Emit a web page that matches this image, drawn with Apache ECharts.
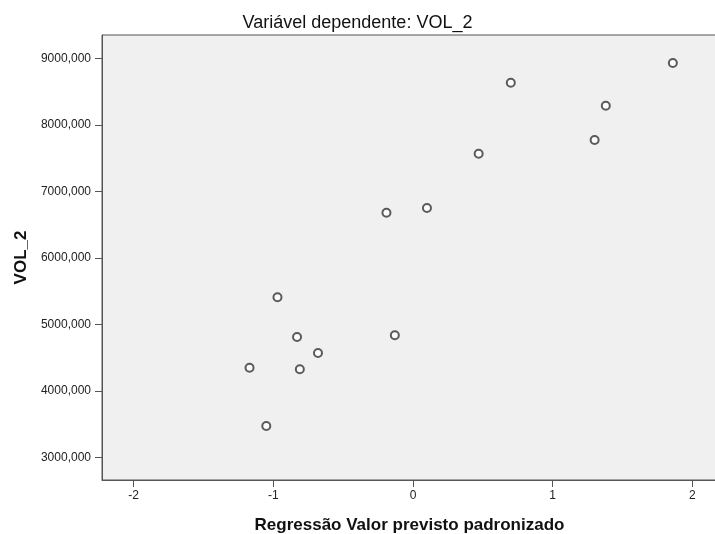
<!DOCTYPE html>
<html>
<head>
<meta charset="utf-8">
<script src="https://cdn.jsdelivr.net/npm/echarts@6/dist/echarts.min.js"></script>
<style>
  html, body { margin: 0; padding: 0; background: #fff; }
  #chart { width: 715px; height: 534px; }
</style>
</head>
<body>
<div id="chart"></div>
<script>
// valor previsto padronizado (x) e VOL_2 (y)
var predicted = [1.86, 0.70, 1.38, 1.30, 0.47, 0.10, -0.19, -0.97, -0.83, -0.13, -0.68, -1.17, -0.81, -1.05];
var vol2 = [8929, 8633, 8288, 7773, 7567, 6751, 6681, 5410, 4813, 4839, 4573, 4352, 4328, 3476];
var xTicks = [-2, -1, 0, 1, 2];
var yTicks = [3000, 4000, 5000, 6000, 7000, 8000, 9000];

var points = predicted.map(function (x, i) { return [x, vol2[i]]; });

var myChart = echarts.init(document.getElementById('chart'));

var fontFam = '"Liberation Sans", Arial, sans-serif';

var option = {
    backgroundColor: '#fff',
    animation: false,
    title: {
        text: 'Variável dependente: VOL_2',
        left: 'center',
        top: 9,
        textStyle: {
            color: '#111',
            fontFamily: fontFam,
            fontSize: 18,
            fontWeight: 'normal'
        }
    },
    grid: {
        left: 102,
        top: 35,
        right: -2,
        bottom: 54,
        outerBoundsMode: 'none',
        show: true,
        backgroundColor: '#f0f0f0',
        borderColor: '#555',
        borderWidth: 1
    },
    xAxis: {
        type: 'value',
        min: -2.226,
        max: 2.176,
        name: 'Regressão Valor previsto padronizado',
        nameLocation: 'middle',
        nameGap: 37,
        nameTextStyle: {
            color: '#111',
            fontFamily: fontFam,
            fontSize: 17,
            fontWeight: 'bold'
        },
        splitLine: { show: false },
        axisLine: { show: true, onZero: false, lineStyle: { color: '#555', width: 1 } },
        axisTick: {
            show: true,
            length: 7,
            customValues: xTicks,
            lineStyle: { color: '#555', width: 1 }
        },
        axisLabel: {
            customValues: xTicks,
            color: '#222',
            fontFamily: fontFam,
            fontSize: 12,
            margin: 10
        }
    },
    yAxis: {
        type: 'value',
        min: 2665,
        max: 9350,
        name: 'VOL_2',
        nameLocation: 'middle',
        nameRotate: 90,
        nameGap: 72,
        nameTextStyle: {
            color: '#111',
            fontFamily: fontFam,
            fontSize: 17,
            fontWeight: 'bold'
        },
        splitLine: { show: false },
        axisLine: { show: true, onZero: false, lineStyle: { color: '#555', width: 1 } },
        axisTick: {
            show: true,
            length: 7,
            customValues: yTicks,
            lineStyle: { color: '#555', width: 1 }
        },
        axisLabel: {
            customValues: yTicks,
            color: '#222',
            fontFamily: fontFam,
            fontSize: 12,
            margin: 11,
            formatter: function (v) { return v + ',000'; }
        }
    },
    series: [{
        type: 'scatter',
        data: points,
        symbol: 'emptyCircle',
        symbolSize: 8,
        itemStyle: {
            color: '#333',
            borderColor: '#333',
            borderWidth: 1.3
        }
    }]
};

myChart.setOption(option);
</script>
</body>
</html>
